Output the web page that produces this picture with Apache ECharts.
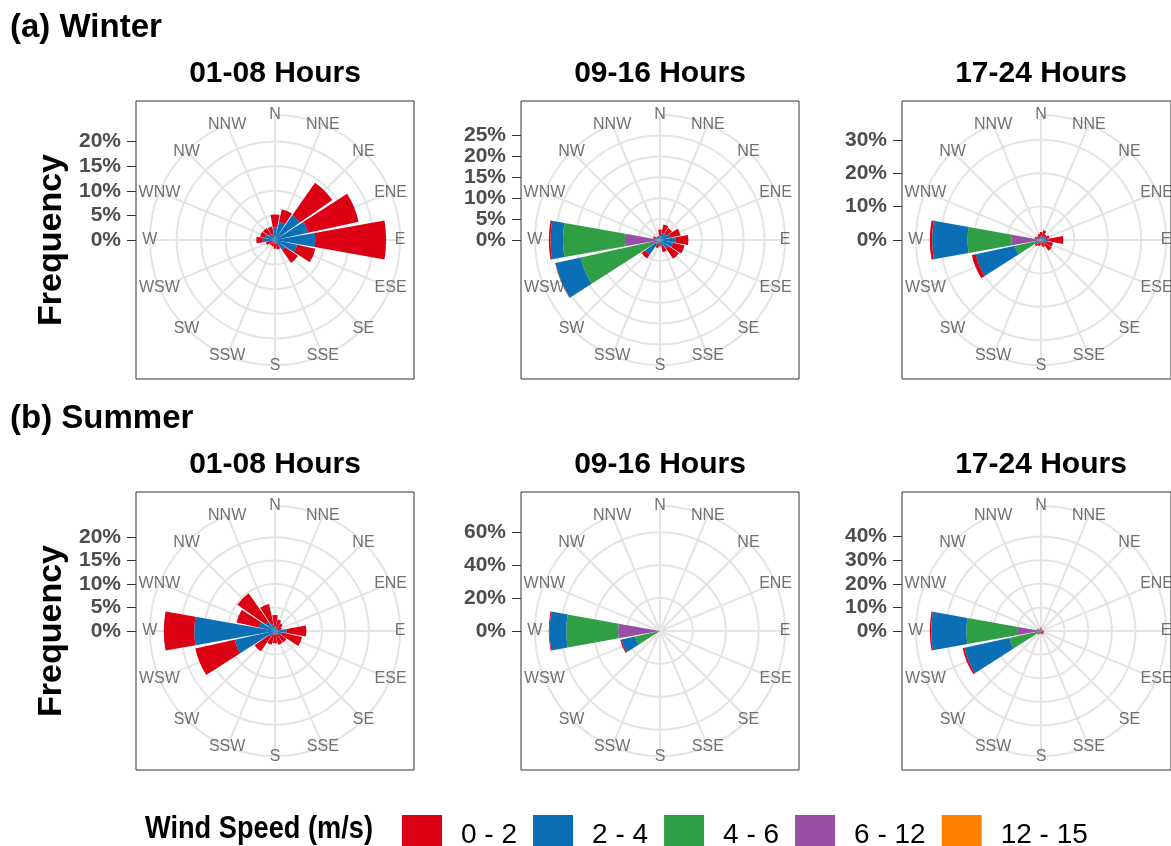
<!DOCTYPE html>
<html>
<head>
<meta charset="utf-8">
<script src="https://cdn.jsdelivr.net/npm/echarts@6/dist/echarts.min.js"></script>
<style>
  html, body { margin: 0; padding: 0; background: #ffffff; }
  #chart { width: 1171px; height: 846px; }
</style>
</head>
<body>
<div id="chart"></div>
<script>
// Compass sectors, clockwise from north
const directions = ['N', 'NNE', 'NE', 'ENE', 'E', 'ESE', 'SE', 'SSE', 'S', 'SSW', 'SW', 'WSW', 'W', 'WNW', 'NW', 'NNW'];
const speedBins = ['0 - 2', '2 - 4', '4 - 6', '6 - 12', '12 - 15'];
const binColors = ['#DC0014', '#0A6FB5', '#2F9E45', '#984EA3', '#FF7F00'];
const seasonTitles = ['(a) Winter', '(b) Summer'];
const hourTitles = ['01-08 Hours', '09-16 Hours', '17-24 Hours'];

// Frequency (%) of each direction, split by wind-speed class (m/s)
// Winter, 01-08 h
const winterA_0_2   = [2.6, 2.6, 8.0, 10.5, 14.4, 3.8, 3.2, 1.2, 1.3, 1.0, 0.8, 1.0, 1.3, 1.0, 1.6, 1.6];
const winterA_2_4   = [2.6, 3.8, 6.1, 6.8, 8.0, 4.5, 2.5, 0.8, 0.5, 0.4, 0.5, 0.8, 2.2, 2.0, 1.4, 1.2];
const winterA_4_6   = [0, 0, 0.1, 0.1, 0.2, 0.1, 0, 0, 0, 0, 0, 0.1, 0.3, 0.1, 0, 0];
const winterA_6_12  = [0, 0, 0, 0, 0, 0, 0, 0, 0, 0, 0, 0, 0, 0, 0, 0];
const winterA_12_15 = [0, 0, 0, 0, 0, 0, 0, 0, 0, 0, 0, 0, 0, 0, 0, 0];
// Winter, 09-16 h
const winterB_0_2   = [1.3, 2.0, 1.7, 2.5, 3.0, 2.8, 3.0, 1.6, 0.8, 0.9, 1.1, 0.1, 0.4, 0.4, 0.4, 0.4];
const winterB_2_4   = [1.0, 1.5, 1.5, 2.0, 3.2, 2.8, 2.2, 1.2, 0.5, 0.8, 3.0, 6.2, 3.0, 0.5, 0.4, 0.4];
const winterB_4_6   = [0.2, 0.3, 0.3, 0.5, 0.6, 0.4, 0.3, 0.2, 0.2, 0.3, 1.0, 17.4, 14.8, 0.5, 0.2, 0.2];
const winterB_6_12  = [0, 0, 0, 0, 0, 0, 0, 0, 0, 0, 0.3, 2.0, 8.4, 0.3, 0, 0];
const winterB_12_15 = [0, 0, 0, 0, 0, 0, 0, 0, 0, 0, 0, 0, 0, 0, 0, 0];
// Winter, 17-24 h
const winterC_0_2   = [1.5, 1.8, 1.0, 1.2, 4.4, 2.0, 2.5, 1.5, 1.0, 1.2, 0.8, 1.2, 0.7, 0.5, 0.8, 1.2];
const winterC_2_4   = [0.8, 1.0, 0.8, 1.2, 2.0, 1.5, 1.2, 0.6, 0.4, 0.5, 0.8, 12.0, 10.6, 0.8, 0.6, 0.6];
const winterC_4_6   = [0.1, 0.2, 0.2, 0.2, 0.3, 0.2, 0.2, 0.1, 0.1, 0.2, 0.5, 7.0, 13.2, 0.3, 0.1, 0.1];
const winterC_6_12  = [0, 0, 0, 0, 0, 0, 0, 0, 0, 0, 0.2, 1.0, 8.8, 0.3, 0, 0];
const winterC_12_15 = [0, 0, 0, 0, 0, 0, 0, 0, 0, 0, 0, 0, 0, 0, 0, 0];
// Summer, 01-08 h
const summerA_0_2   = [2.4, 1.7, 1.4, 1.0, 4.2, 4.4, 2.2, 2.2, 1.9, 2.2, 3.8, 8.6, 6.5, 4.8, 7.3, 4.4];
const summerA_2_4   = [1.0, 0.8, 0.6, 0.5, 2.5, 1.5, 0.8, 0.8, 0.7, 0.8, 1.5, 8.7, 17.0, 3.5, 2.5, 1.5];
const summerA_4_6   = [0, 0, 0, 0, 0, 0, 0, 0, 0, 0, 0, 0.1, 0.2, 0.1, 0, 0];
const summerA_6_12  = [0, 0, 0, 0, 0, 0, 0, 0, 0, 0, 0, 0, 0, 0, 0, 0];
const summerA_12_15 = [0, 0, 0, 0, 0, 0, 0, 0, 0, 0, 0, 0, 0, 0, 0, 0];
// Summer, 09-16 h
const summerB_0_2   = [0, 0, 0, 0, 0.1, 0.1, 0, 0, 0, 0, 0.1, 0.8, 0.5, 0, 0, 0];
const summerB_2_4   = [0, 0, 0, 0, 0.1, 0, 0, 0, 0, 0, 0.2, 8.5, 10.1, 0.1, 0, 0];
const summerB_4_6   = [0, 0, 0, 0, 0, 0, 0, 0, 0, 0, 0.2, 13.5, 31.5, 0.2, 0, 0];
const summerB_6_12  = [0, 0, 0, 0, 0, 0, 0, 0, 0, 0, 0, 2.0, 25.5, 0.3, 0, 0];
const summerB_12_15 = [0, 0, 0, 0, 0, 0, 0, 0, 0, 0, 0, 0, 0, 0, 0, 0];
// Summer, 17-24 h
const summerC_0_2   = [0.3, 0.3, 0.2, 0.3, 0.5, 0.8, 1.0, 1.2, 1.0, 0.8, 0.5, 0.8, 0.6, 0.2, 0.2, 0.3];
const summerC_2_4   = [1.0, 0.6, 0.3, 0.3, 0.6, 0.4, 0.3, 0.3, 0.2, 0.3, 0.8, 19.4, 14.9, 0.8, 0.4, 0.6];
const summerC_4_6   = [0.2, 0.1, 0.1, 0.1, 0.2, 0.1, 0.1, 0, 0, 0.1, 0.5, 12.3, 21.7, 0.4, 0.2, 0.2];
const summerC_6_12  = [0, 0, 0, 0, 0, 0, 0, 0, 0, 0, 0.1, 1.5, 9.9, 0.3, 0, 0];
const summerC_12_15 = [0, 0, 0, 0, 0, 0, 0, 0, 0, 0, 0, 0, 0, 0, 0, 0];

// Radial tick labels (%) of each rose
const winterATicks = [0, 5, 10, 15, 20];
const winterBTicks = [0, 5, 10, 15, 20, 25];
const winterCTicks = [0, 10, 20, 30];
const summerATicks = [0, 5, 10, 15, 20];
const summerBTicks = [0, 20, 40, 60];
const summerCTicks = [0, 10, 20, 30, 40];

const panels = [
  { row: 0, col: 0, bins: [winterA_0_2, winterA_2_4, winterA_4_6, winterA_6_12, winterA_12_15], ticks: winterATicks },
  { row: 0, col: 1, bins: [winterB_0_2, winterB_2_4, winterB_4_6, winterB_6_12, winterB_12_15], ticks: winterBTicks },
  { row: 0, col: 2, bins: [winterC_0_2, winterC_2_4, winterC_4_6, winterC_6_12, winterC_12_15], ticks: winterCTicks },
  { row: 1, col: 0, bins: [summerA_0_2, summerA_2_4, summerA_4_6, summerA_6_12, summerA_12_15], ticks: summerATicks },
  { row: 1, col: 1, bins: [summerB_0_2, summerB_2_4, summerB_4_6, summerB_6_12, summerB_12_15], ticks: summerBTicks },
  { row: 1, col: 2, bins: [summerC_0_2, summerC_2_4, summerC_4_6, summerC_6_12, summerC_12_15], ticks: summerCTicks }
];

// Layout
const colX = [275, 660, 1041];
const rowY = [240, 631];
const BOX = 278;
const R_DATA = BOX * 0.40;   // longest bar reaches this radius
const R_OUT = BOX * 0.45;    // outer ring, spokes and compass labels
const GRID_COLOR = '#E4E4E4';
const SANS = "'Liberation Sans', Arial, Helvetica, sans-serif";

const option = {
  animation: false,
  backgroundColor: '#ffffff',
  grid: [], xAxis: [], yAxis: [],
  polar: [], angleAxis: [], radiusAxis: [],
  series: [],
  graphic: [],
  legend: {
    data: speedBins,
    left: 397,
    top: 810,
    orient: 'horizontal',
    icon: 'rect',
    itemWidth: 40,
    itemHeight: 40,
    itemGap: 16,
    selectedMode: false,
    textStyle: { fontSize: 28, fontFamily: SANS, color: '#000', padding: [0, 0, 0, 14] }
  }
};

panels.forEach((p, i) => {
  const cx = colX[p.col];
  const cy = rowY[p.row];
  const totals = directions.map((_, k) => p.bins.reduce((s, arr) => s + arr[k], 0));
  const rmax = Math.max(...totals);
  const lastTick = p.ticks[p.ticks.length - 1];
  const step = p.ticks[1] - p.ticks[0];

  // Panel frame with the radial scale drawn on its left edge
  option.grid.push({
    left: cx - BOX / 2, top: cy - BOX / 2, width: BOX, height: BOX,
    show: true, borderColor: '#333333', borderWidth: 1, backgroundColor: 'transparent'
  });
  option.xAxis.push({ gridIndex: i, type: 'value', min: 0, max: 1, show: false });
  option.yAxis.push({
    gridIndex: i, type: 'value', position: 'left',
    min: -1.25 * rmax, max: 1.25 * rmax,
    axisLine: { show: false },
    axisTick: { show: true, length: 9, lineStyle: { color: '#333333', width: 1 }, customValues: p.ticks },
    axisLabel: {
      customValues: p.ticks, formatter: v => v + '%', margin: 15,
      fontSize: 21, fontWeight: 'bold', color: '#4D4D4D', fontFamily: SANS
    },
    splitLine: { show: false }
  });

  // Rings at the radial breaks
  option.polar.push({ center: [cx, cy], radius: lastTick / rmax * R_DATA });
  option.angleAxis.push({
    polarIndex: 3 * i, type: 'value', min: 0, max: 360, show: false,
    axisLine: { show: false }, splitLine: { show: false }, axisTick: { show: false }, axisLabel: { show: false }
  });
  option.radiusAxis.push({
    polarIndex: 3 * i, type: 'value', min: 0, max: lastTick, interval: step,
    axisLine: { show: false }, axisTick: { show: false }, axisLabel: { show: false },
    splitLine: { show: true, lineStyle: { color: GRID_COLOR, width: 2 } }
  });

  // Spokes and outer ring; compass names sit centred on the ring
  option.polar.push({ center: [cx, cy], radius: R_OUT });
  option.angleAxis.push({
    polarIndex: 3 * i + 1, type: 'category', data: directions,
    boundaryGap: false, startAngle: 90, clockwise: true,
    axisLine: { show: true, lineStyle: { color: GRID_COLOR, width: 2 } },
    axisTick: { show: false },
    axisLabel: { show: false },
    splitLine: { show: true, interval: 0, lineStyle: { color: GRID_COLOR, width: 2 } }
  });
  option.radiusAxis.push({ polarIndex: 3 * i + 1, type: 'value', min: 0, max: 1, show: false });
  option.series.push({
    type: 'scatter', coordinateSystem: 'polar', polarIndex: 3 * i + 1,
    symbolSize: 0, silent: true, z: 3,
    data: directions.map(d => ({ name: d, value: [1, d] })),
    label: {
      show: true, position: 'inside', formatter: '{b}', align: 'center', verticalAlign: 'middle',
      fontSize: 16, color: '#4D4D4D', fontFamily: SANS
    }
  });

  // Stacked frequency bars
  option.polar.push({ center: [cx, cy], radius: R_DATA });
  option.angleAxis.push({
    polarIndex: 3 * i + 2, type: 'category', data: directions,
    startAngle: 90 + 360 / directions.length / 2, clockwise: true, show: false,
    axisLine: { show: false }, splitLine: { show: false }, axisTick: { show: false }, axisLabel: { show: false }
  });
  option.radiusAxis.push({ polarIndex: 3 * i + 2, type: 'value', min: 0, max: rmax, show: false });

  for (let b = speedBins.length - 1; b >= 0; b--) {
    option.series.push({
      type: 'bar', coordinateSystem: 'polar', polarIndex: 3 * i + 2,
      stack: 'rose' + i, name: speedBins[b], data: p.bins[b],
      barCategoryGap: '10%', silent: true,
      itemStyle: { color: binColors[b] }
    });
  }
});

// Season headings, hour headings and axis titles
seasonTitles.forEach((t, r) => {
  option.graphic.push({
    type: 'text', x: 10, y: rowY[r] - 212,
    style: { text: t, font: 'bold 33px ' + SANS, fill: '#000', textAlign: 'left', textVerticalAlign: 'middle' }
  });
  hourTitles.forEach((h, c) => {
    option.graphic.push({
      type: 'text', x: colX[c], y: rowY[r] - 166,
      style: { text: h, font: 'bold 30px ' + SANS, fill: '#000', textAlign: 'center', textVerticalAlign: 'middle' }
    });
  });
  option.graphic.push({
    type: 'text', x: 52, y: rowY[r], rotation: Math.PI / 2,
    style: { text: 'Frequency', font: 'bold 34px ' + SANS, fill: '#000', textAlign: 'center', textVerticalAlign: 'middle' }
  });
});
// Legend heading, set in a condensed cut
option.graphic.push({
  type: 'text', x: 145, y: 829, scaleX: 0.85, scaleY: 1,
  style: { text: 'Wind Speed (m/s)', font: 'bold 32px ' + SANS, fill: '#000', textAlign: 'left', textVerticalAlign: 'middle' }
});

const chart = echarts.init(document.getElementById('chart'), null, { renderer: 'canvas' });
chart.setOption(option);
</script>
</body>
</html>
